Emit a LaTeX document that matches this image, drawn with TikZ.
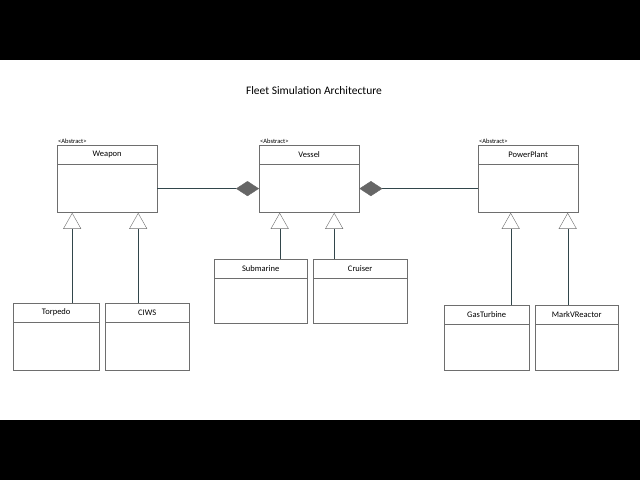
\documentclass[tikz,border=0pt]{standalone}
\usepackage{fontspec}
\setmainfont{Carlito}
\usetikzlibrary{arrows.meta,positioning}
\definecolor{boxline}{RGB}{110,110,110}
\definecolor{linkline}{RGB}{50,70,75}
\tikzset{
  head/.style={shape=rectangle,draw=boxline,fill=white,minimum width=#1,minimum height=19pt,inner sep=0pt,font=\fontsize{8.5}{10}\selectfont},
  body/.style={shape=rectangle,draw=boxline,fill=white,minimum width=#1,inner sep=0pt,below=0pt of #1},
  stereo/.style={font=\fontsize{6.5}{7}\selectfont,anchor=south west,inner sep=1pt},
  inherit/.style={draw=linkline,-{Triangle[open,width=18pt,length=16pt,color=boxline,fill=white]}},
  whole/.style={draw=linkline,-{Diamond[width=15pt,length=23pt,color=gray!80!black,fill=gray!80!black]}}
}
\begin{document}
\begin{tikzpicture}[x=1pt,y=-1pt]
\useasboundingbox (0,0) rectangle (640,480);
\fill[black] (0,0) rectangle (640,60);
\fill[black] (0,420) rectangle (640,480);
\node[font=\fontsize{11.5}{13}\selectfont] (title) at (314,91) {Fleet Simulation Architecture};

\node[head=100pt,anchor=north west] (weapon) at (57,145) {Weapon};
\node[draw=boxline,minimum width=100pt,minimum height=48pt,anchor=north] (weaponB) at (weapon.south) {};
\node[stereo] (weaponS) at (weapon.north west) {<Abstract>};
\node[head=100pt,anchor=north west] (vessel) at (259,145) {Vessel};
\node[draw=boxline,minimum width=100pt,minimum height=48pt,anchor=north] (vesselB) at (vessel.south) {};
\node[stereo] (vesselS) at (vessel.north west) {<Abstract>};
\node[head=100pt,anchor=north west] (power) at (478,145) {PowerPlant};
\node[draw=boxline,minimum width=100pt,minimum height=48pt,anchor=north] (powerB) at (power.south) {};
\node[stereo] (powerS) at (power.north west) {<Abstract>};

\node[head=86pt,anchor=north west] (torpedo) at (13,303) {Torpedo};
\node[draw=boxline,minimum width=86pt,minimum height=48pt,anchor=north] (torpedoB) at (torpedo.south) {};
\node[head=84pt,anchor=north west] (ciws) at (105,303) {CIWS};
\node[draw=boxline,minimum width=84pt,minimum height=48pt,anchor=north] (ciwsB) at (ciws.south) {};
\node[head=93pt,anchor=north west] (sub) at (214,259) {Submarine};
\node[draw=boxline,minimum width=93pt,minimum height=45pt,anchor=north] (subB) at (sub.south) {};
\node[head=94pt,anchor=north west] (cruiser) at (313,259) {Cruiser};
\node[draw=boxline,minimum width=94pt,minimum height=45pt,anchor=north] (cruiserB) at (cruiser.south) {};
\node[head=85pt,anchor=north west] (gas) at (444,305) {GasTurbine};
\node[draw=boxline,minimum width=85pt,minimum height=46pt,anchor=north] (gasB) at (gas.south) {};
\node[head=83pt,anchor=north west] (mark) at (535,305) {MarkVReactor};
\node[draw=boxline,minimum width=83pt,minimum height=46pt,anchor=north] (markB) at (mark.south) {};

% generalisation
\draw[inherit] ([xshift=16pt]torpedo.north) -- ([xshift=16pt]torpedo.north |- weaponB.south);
\draw[inherit] ([xshift=-9pt]ciws.north) -- ([xshift=-9pt]ciws.north |- weaponB.south);
\draw[inherit] ([xshift=19pt]sub.north) -- ([xshift=19pt]sub.north |- vesselB.south);
\draw[inherit] ([xshift=-26pt]cruiser.north) -- ([xshift=-26pt]cruiser.north |- vesselB.south);
\draw[inherit] ([xshift=24pt]gas.north) -- ([xshift=24pt]gas.north |- powerB.south);
\draw[inherit] ([xshift=-9pt]mark.north) -- ([xshift=-9pt]mark.north |- powerB.south);

% composition
\draw[whole] (weaponB.east) -- (vesselB.west);
\draw[whole] (powerB.west) -- (vesselB.east);
\end{tikzpicture}
\end{document}
